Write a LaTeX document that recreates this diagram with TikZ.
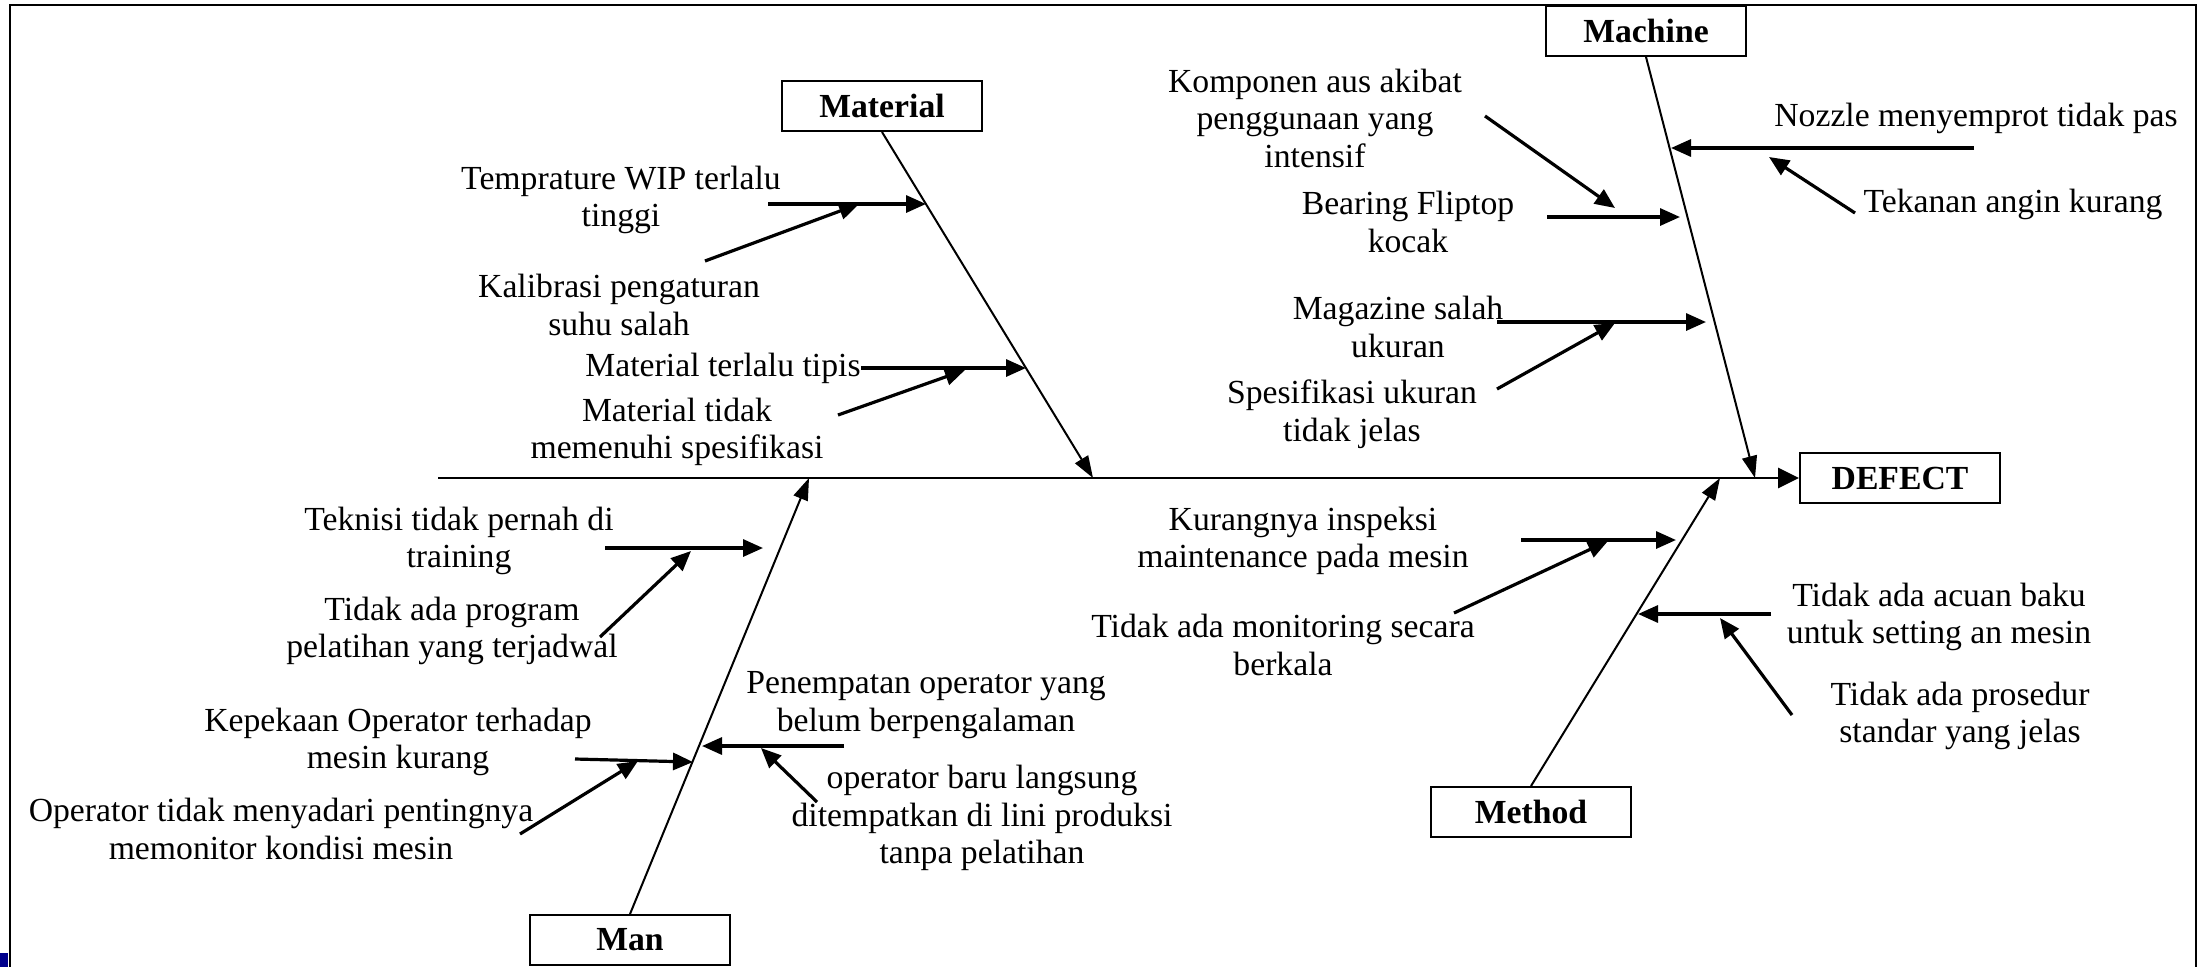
\documentclass[tikz,border=0pt]{standalone}
\usepackage{fontspec}
\setmainfont{Liberation Serif}
\usetikzlibrary{arrows.meta}

\tikzset{
  kotak/.style={draw, line width=2pt, minimum width=200pt, minimum height=50pt, inner sep=0pt,
    font=\bfseries\fontsize{33.7}{37.5}\selectfont},
  teks/.style={align=center, inner sep=0pt, font=\fontsize{33.7}{37.5}\selectfont},
  tulang/.style={line width=2pt, -{Triangle[length=22pt,width=15pt]}},
  panah/.style={line width=3.2pt, -{Triangle[length=20pt,width=17pt]}},
}

\begin{document}
\begin{tikzpicture}[x=1pt,y=-1pt]
    \useasboundingbox (0,0) rectangle (2199,967);

    % 绘制边框
    \fill[blue!55!black] (0,953) rectangle (8,967);
    \draw[line width=2.5pt] (10,967) -- (10,5) -- (2196,5) -- (2196,967);

    % 绘制类别方框
    \node[kotak] (material) at (882,106) {Material};
    \node[kotak] (machine) at (1646,31) {Machine};
    \node[kotak] (man) at (630,940) {Man};
    \node[kotak] (method) at (1531,812) {Method};
    \node[kotak] (defect) at (1900,478) {DEFECT};

    % 绘制主干
    \coordinate (ekor) at (438,478);
    \draw[line width=2.8pt, -{Triangle[length=21pt,width=20pt]}] (ekor) -- (defect.west);

    % 绘制分支
    \coordinate (tMaterial) at (1093,478);
    \coordinate (tMachine) at (1755,478);
    \coordinate (tMan) at (809,478);
    \coordinate (tMethod) at (1720,478);
    \draw[tulang] (material.south) -- (tMaterial);
    \draw[tulang] (machine.south) -- (tMachine);
    \draw[tulang] (man.north) -- (tMan);
    \draw[tulang] (method.north) -- (tMethod);

    % Material
    \node[teks] (mat1) at (621,200) {Temprature WIP terlalu\\tinggi};
    \node[teks] (mat1s) at (619,305) {Kalibrasi pengaturan\\suhu salah};
    \node[teks] (mat2) at (723,368) {Material terlalu tipis};
    \node[teks] (mat2s) at (677,432) {Material tidak\\memenuhi spesifikasi};
    \coordinate (mat1a) at (768,204);  \coordinate (mat1b) at (926,204);
    \coordinate (mat1sa) at (705,261); \coordinate (mat1sb) at (859,204);
    \coordinate (mat2b) at (1026,368);
    \coordinate (mat2sa) at (838,415); \coordinate (mat2sb) at (965,370);
    \draw[panah] (mat1a) -- (mat1b);
    \draw[panah] (mat1sa) -- (mat1sb);
    \draw[panah] (mat2.east) -- (mat2b);
    \draw[panah] (mat2sa) -- (mat2sb);

    % Machine
    \node[teks] (mc1) at (1315,118) {Komponen aus akibat\\penggunaan yang\\intensif};
    \node[teks] (mc2) at (1408,222) {Bearing Fliptop\\kocak};
    \node[teks] (mc3) at (1976,118) {Nozzle menyemprot tidak pas};
    \node[teks] (mc3s) at (2013,204) {Tekanan angin kurang};
    \node[teks] (mc4) at (1398,327) {Magazine salah\\ukuran};
    \node[teks] (mc4s) at (1352,414) {Spesifikasi ukuran\\tidak jelas};
    \coordinate (mc1a) at (1485,116);  \coordinate (mc1b) at (1615,208);
    \coordinate (mc2a) at (1547,217);  \coordinate (mc2b) at (1680,217);
    \coordinate (mc3a) at (1974,148);  \coordinate (mc3b) at (1671,148);
    \coordinate (mc3sa) at (1855,213); \coordinate (mc3sb) at (1769,157);
    \coordinate (mc4a) at (1497,322);  \coordinate (mc4b) at (1706,322);
    \coordinate (mc4sa) at (1497,389); \coordinate (mc4sb) at (1615,323);
    \draw[panah] (mc1a) -- (mc1b);
    \draw[panah] (mc2a) -- (mc2b);
    \draw[panah] (mc3a) -- (mc3b);
    \draw[panah] (mc3sa) -- (mc3sb);
    \draw[panah] (mc4a) -- (mc4b);
    \draw[panah] (mc4sa) -- (mc4sb);

    % Method
    \node[teks] (me1) at (1303,541) {Kurangnya inspeksi\\maintenance pada mesin};
    \node[teks] (me1s) at (1283,645) {Tidak ada monitoring secara\\berkala};
    \node[teks] (me2) at (1939,617) {Tidak ada acuan baku\\untuk setting an mesin};
    \node[teks] (me2s) at (1960,716) {Tidak ada prosedur\\standar yang jelas};
    \coordinate (me1a) at (1521,540);  \coordinate (me1b) at (1676,540);
    \coordinate (me1sa) at (1454,613); \coordinate (me1sb) at (1608,541);
    \coordinate (me2a) at (1771,614);  \coordinate (me2b) at (1638,614);
    \coordinate (me2sa) at (1792,715); \coordinate (me2sb) at (1720,618);
    \draw[panah] (me1a) -- (me1b);
    \draw[panah] (me1sa) -- (me1sb);
    \draw[panah] (me2a) -- (me2b);
    \draw[panah] (me2sa) -- (me2sb);

    % Man
    \node[teks] (mn1) at (459,541) {Teknisi tidak pernah di\\training};
    \node[teks] (mn1s) at (452,631) {Tidak ada program\\pelatihan yang terjadwal};
    \node[teks] (mn2) at (398,742) {Kepekaan Operator terhadap\\mesin kurang};
    \node[teks] (mn2s) at (281,829) {Operator tidak menyadari pentingnya\\memonitor kondisi mesin};
    \node[teks] (mn3) at (926,705) {Penempatan operator yang\\belum berpengalaman};
    \node[teks] (mn3s) at (982,818) {operator baru langsung\\ditempatkan di lini produksi\\tanpa pelatihan};
    \coordinate (mn1a) at (605,548);  \coordinate (mn1b) at (763,548);
    \coordinate (mn1sa) at (600,637); \coordinate (mn1sb) at (691,551);
    \coordinate (mn2a) at (575,759);  \coordinate (mn2b) at (693,762);
    \coordinate (mn2sa) at (520,834); \coordinate (mn2sb) at (638,761);
    \coordinate (mn3a) at (844,746);  \coordinate (mn3b) at (702,746);
    \coordinate (mn3sa) at (817,802); \coordinate (mn3sb) at (761,748);
    \draw[panah] (mn1a) -- (mn1b);
    \draw[panah] (mn1sa) -- (mn1sb);
    \draw[panah] (mn2a) -- (mn2b);
    \draw[panah] (mn2sa) -- (mn2sb);
    \draw[panah] (mn3a) -- (mn3b);
    \draw[panah] (mn3sa) -- (mn3sb);
\end{tikzpicture}
\end{document}
